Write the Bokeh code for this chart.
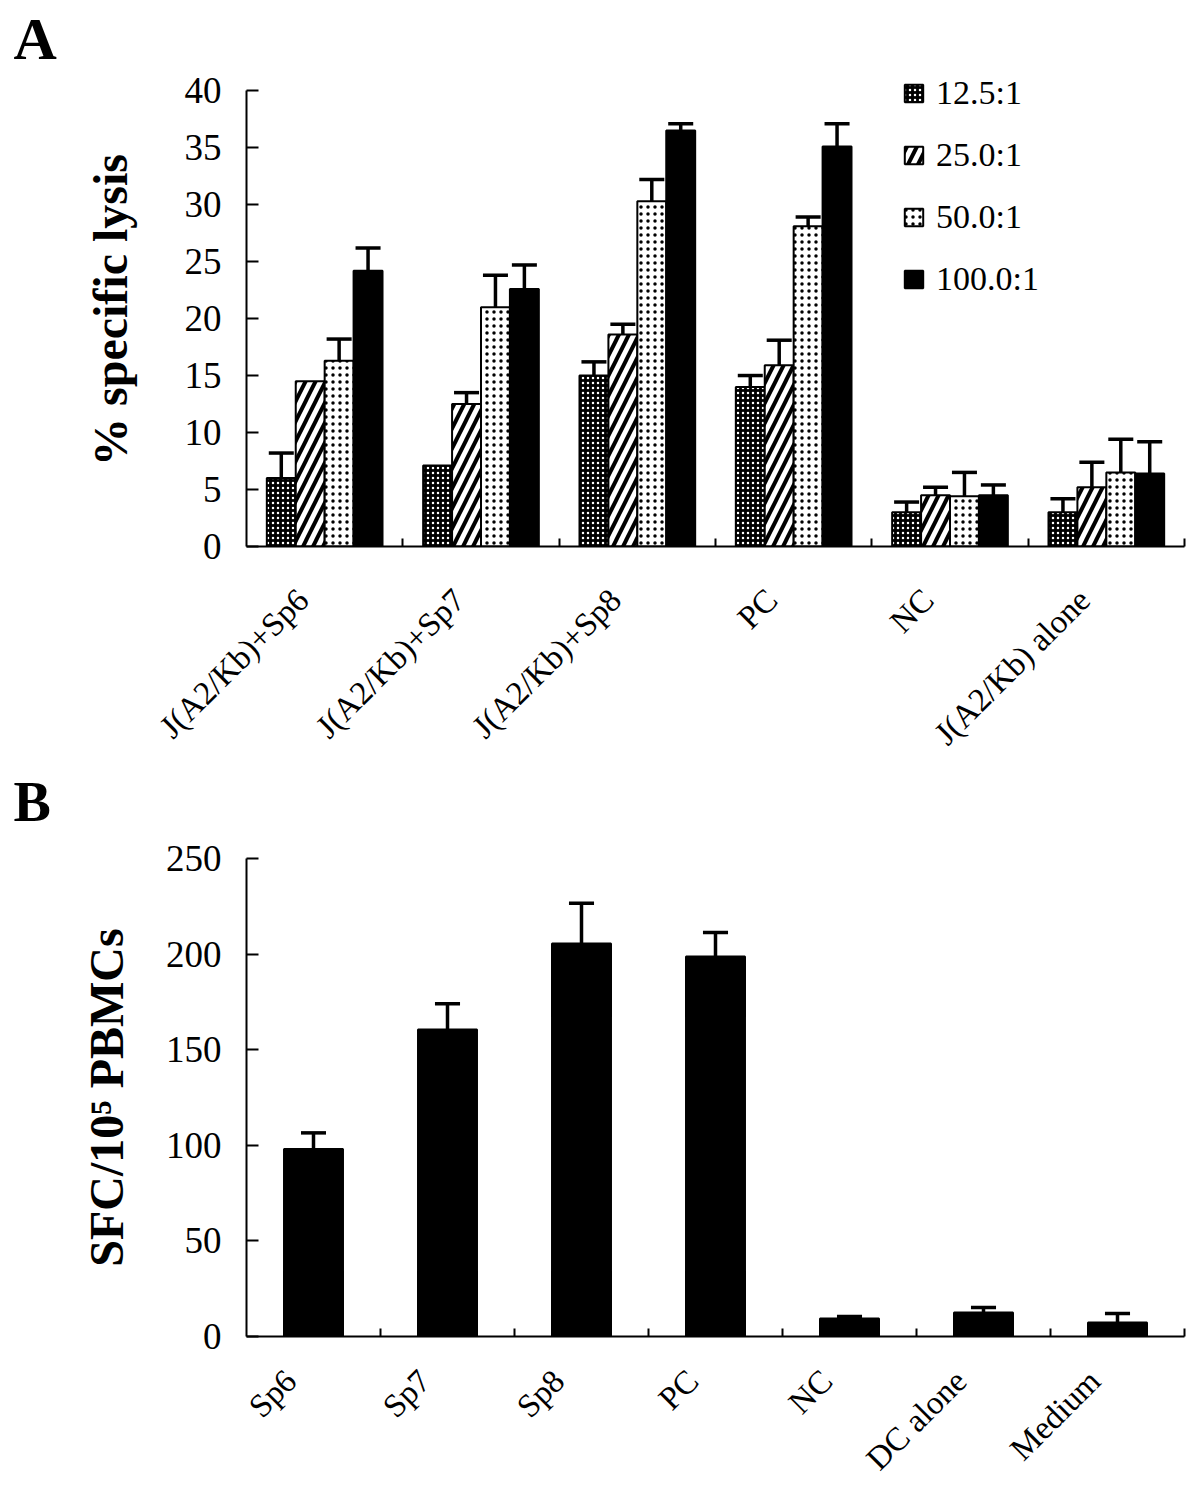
import numpy as np
from bokeh.plotting import figure
from bokeh.models import (ColumnDataSource, FixedTicker, LinearAxis, Range1d,
                          Legend, LegendItem, Title)
from bokeh.layouts import column
from bokeh.embed import file_html
from bokeh.resources import INLINE

# ---------------- Panel A data ----------------
groups_a = ["J(A2/Kb)+Sp6", "J(A2/Kb)+Sp7", "J(A2/Kb)+Sp8", "PC", "NC", "J(A2/Kb) alone"]
ratios = ["12.5:1", "25.0:1", "50.0:1", "100.0:1"]
lysis_125 = [6.0, 7.1, 15.0, 14.0, 3.0, 3.0]
lysis_250 = [14.5, 12.5, 18.6, 15.9, 4.5, 5.2]
lysis_500 = [16.3, 21.0, 30.3, 28.1, 4.4, 6.5]
lysis_1000 = [24.2, 22.6, 36.5, 35.1, 4.5, 6.4]
err_125 = [2.2, 0.0, 1.2, 1.0, 0.9, 1.2]
err_250 = [0.0, 1.0, 0.9, 2.2, 0.7, 2.2]
err_500 = [1.9, 2.8, 1.9, 0.8, 2.1, 2.9]
err_1000 = [2.0, 2.1, 0.6, 2.0, 0.9, 2.8]
yticks_a = [0, 5, 10, 15, 20, 25, 30, 35, 40]

# ---------------- Panel B data ----------------
groups_b = ["Sp6", "Sp7", "Sp8", "PC", "NC", "DC alone", "Medium"]
sfc = [98.0, 160.5, 205.6, 198.8, 9.4, 12.5, 7.3]
sfc_err = [8.5, 13.5, 21.0, 12.5, 1.0, 2.7, 4.7]
yticks_b = [0, 50, 100, 150, 200, 250]

SERIF = "Liberation Serif"


def panel_letter(text, size, standoff):
    return Title(text=text, align="left", offset=-233, standoff=standoff,
                 text_font=SERIF, text_font_style="bold", text_font_size=size,
                 text_color="black")


def style_panel(p, yticks, ybounds, ylabel, ylabel_standoff, names,
                label_shift, label_standoff):
    p.outline_line_color = None
    p.xgrid.visible = False
    p.ygrid.visible = False

    ya = p.yaxis[0]
    ya.ticker = FixedTicker(ticks=yticks)
    ya.bounds = ybounds
    ya.axis_label = ylabel
    ya.axis_label_standoff = ylabel_standoff
    ya.axis_label_text_font = SERIF
    ya.axis_label_text_font_style = "bold"
    ya.axis_label_text_font_size = "48px"
    ya.axis_label_text_color = "black"
    ya.major_label_text_font = SERIF
    ya.major_label_text_font_size = "37px"
    ya.major_label_text_color = "black"
    ya.major_label_standoff = 25
    ya.axis_line_width = 2
    ya.axis_line_color = "black"
    ya.major_tick_line_width = 2
    ya.major_tick_line_color = "black"
    ya.major_tick_in = 12
    ya.major_tick_out = 0
    ya.minor_tick_line_color = None

    n = len(names)
    centers = [i + 0.5 + label_shift for i in range(n)]
    bounds_ticks = list(range(1, n + 1))
    ax = LinearAxis(ticker=FixedTicker(ticks=centers, minor_ticks=bounds_ticks),
                    major_label_overrides={c: nm for c, nm in zip(centers, names)})
    ax.axis_line_width = 2
    ax.axis_line_color = "black"
    ax.major_tick_line_color = None
    ax.minor_tick_line_color = "black"
    ax.minor_tick_line_width = 2
    ax.minor_tick_in = 8
    ax.minor_tick_out = 0
    ax.major_label_text_font = SERIF
    ax.major_label_text_font_size = "33px"
    ax.major_label_text_color = "black"
    ax.major_label_orientation = np.pi / 4
    ax.major_label_standoff = label_standoff
    p.add_layout(ax, "below")


# ================= Figure A =================
H_A = 834
pA = figure(width=1192, height=H_A, output_backend="svg", toolbar_location=None,
            x_range=Range1d(0, 6), y_range=Range1d(0, 41.5), x_axis_type=None,
            min_border_left=246, min_border_right=4, min_border_top=73,
            min_border_bottom=H_A - 548, title=None)
pA.add_layout(panel_letter("A", "60px", 4), "above")
style_panel(pA, yticks_a, (0, 40), "% specific lysis", 45, groups_a, -0.14, 42)
# letter of the second panel sits under panel A's category labels
pA.add_layout(panel_letter("B", "56px", 3), "below")

values_a = [lysis_125, lysis_250, lysis_500, lysis_1000]
errors_a = [err_125, err_250, err_500, err_1000]
bw = 0.185
cap_a = 0.16
styles = [
    dict(fill_color="black", hatch_pattern="dot", hatch_color="white", hatch_scale=5, hatch_weight=1.5),
    dict(fill_color="white", hatch_pattern="right_diagonal_line", hatch_color="black", hatch_scale=20, hatch_weight=4),
    dict(fill_color="white", hatch_pattern="dot", hatch_color="black", hatch_scale=7, hatch_weight=1.5),
    dict(fill_color="black"),
]
items = []
base = np.arange(len(groups_a)) + 0.5
for j, (vals, errs, st) in enumerate(zip(values_a, errors_a, styles)):
    xs = base + (j - 1.5) * bw
    src = ColumnDataSource(dict(x=xs, top=vals))
    r = pA.vbar(x="x", top="top", width=bw, bottom=0, source=src,
                line_color="black", line_width=2, **st)
    items.append(LegendItem(label=ratios[j], renderers=[r]))
    vals_arr = np.array(vals)
    errs_arr = np.array(errs)
    m = errs_arr > 0
    esrc = ColumnDataSource(dict(x=xs[m], y0=vals_arr[m], y1=(vals_arr + errs_arr)[m],
                                 cx0=xs[m] - cap_a / 2, cx1=xs[m] + cap_a / 2))
    pA.segment(x0="x", y0="y0", x1="x", y1="y1", source=esrc, line_color="black", line_width=3.5)
    pA.segment(x0="cx0", y0="y1", x1="cx1", y1="y1", source=esrc, line_color="black", line_width=3.5)

legend = Legend(items=items, location=(656, 247), orientation="vertical",
                label_text_font=SERIF, label_text_font_size="34px",
                label_text_color="black", glyph_width=23, glyph_height=22,
                label_height=40, spacing=22, label_standoff=11, padding=0, margin=0,
                border_line_color=None, background_fill_alpha=0)
pA.add_layout(legend)

# ================= Figure B =================
top_b = 858 - H_A
H_B = 1496 - H_A
pB = figure(width=1192, height=H_B, output_backend="svg", toolbar_location=None,
            x_range=Range1d(0, 7), y_range=Range1d(0, 250), x_axis_type=None,
            min_border_left=246, min_border_right=8, min_border_top=top_b,
            min_border_bottom=H_B - top_b - 478, title=None)
style_panel(pB, yticks_b, (0, 250), "SFC/10\u2075 PBMCs", 30, groups_b, -0.17, 33)

bw_b = 0.44
cap_b = 0.187
xb = np.arange(len(groups_b)) + 0.5
srcb = ColumnDataSource(dict(x=xb, top=sfc))
pB.vbar(x="x", top="top", width=bw_b, bottom=0, source=srcb,
        fill_color="black", line_color="black", line_width=2)
sfc_arr = np.array(sfc)
err_arr = np.array(sfc_err)
esrcb = ColumnDataSource(dict(x=xb, y0=sfc_arr, y1=sfc_arr + err_arr,
                              cx0=xb - cap_b / 2, cx1=xb + cap_b / 2))
pB.segment(x0="x", y0="y0", x1="x", y1="y1", source=esrcb, line_color="black", line_width=3.5)
pB.segment(x0="cx0", y0="y1", x1="cx1", y1="y1", source=esrcb, line_color="black", line_width=3.5)

layout = column(pA, pB, spacing=0)
open("out.html", "w").write(file_html(layout, INLINE))
